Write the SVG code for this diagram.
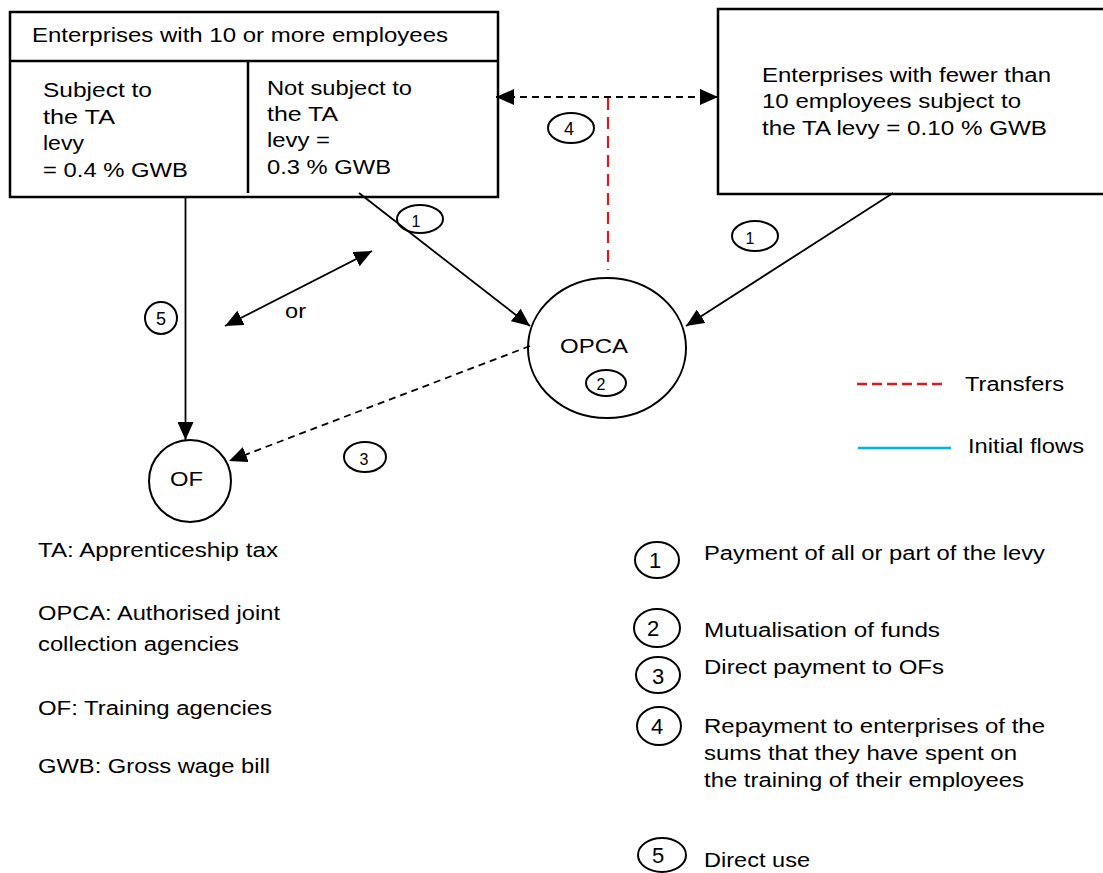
<svg xmlns="http://www.w3.org/2000/svg" width="1103" height="873" viewBox="0 0 1103 873">
<style>
text{font-family:"Liberation Sans",Arial,sans-serif;font-size:20px;fill:#000}
.d16{font-size:16px;text-anchor:middle}
.d18{font-size:18px;text-anchor:middle}
.d22{font-size:22px;text-anchor:middle}
.box{fill:#fff;stroke:#000;stroke-width:2.5}
.ell{fill:none;stroke:#000;stroke-width:2}
.ln{fill:none;stroke:#000;stroke-width:1.8}
.dash{fill:none;stroke:#000;stroke-width:1.8;stroke-dasharray:7 5}
.red{fill:none;stroke:#e3161b;stroke-width:2.2;stroke-dasharray:12 7}
</style>
<defs>
<marker id="ah" viewBox="0 0 18 16" refX="18" refY="8" markerWidth="18" markerHeight="16" markerUnits="userSpaceOnUse" orient="auto-start-reverse">
<path d="M0,0 L18,8 L0,16 Z" fill="#000"/>
</marker>
</defs>
<rect width="1103" height="873" fill="#fff"/>

<g id="big-enterprises">
<rect class="box" x="10" y="12" width="488" height="185"/>
<line x1="10" y1="61" x2="498" y2="61" stroke="#000" stroke-width="2.5"/>
<line x1="248" y1="61" x2="248" y2="193" stroke="#000" stroke-width="2.5"/>
<text x="32" y="42" textLength="416" lengthAdjust="spacingAndGlyphs">Enterprises with 10 or more employees</text>
<text x="43" y="97" textLength="109" lengthAdjust="spacingAndGlyphs">Subject to</text>
<text x="43" y="124" textLength="72" lengthAdjust="spacingAndGlyphs">the TA</text>
<text x="43" y="150" textLength="41" lengthAdjust="spacingAndGlyphs">levy</text>
<text x="43" y="177" textLength="145" lengthAdjust="spacingAndGlyphs">= 0.4 % GWB</text>
<text x="267" y="95" textLength="145" lengthAdjust="spacingAndGlyphs">Not subject to</text>
<text x="267" y="121" textLength="71" lengthAdjust="spacingAndGlyphs">the TA</text>
<text x="267" y="147" textLength="63" lengthAdjust="spacingAndGlyphs">levy =</text>
<text x="267" y="174" textLength="124" lengthAdjust="spacingAndGlyphs">0.3 % GWB</text>
</g>

<g id="small-enterprises">
<rect class="box" x="718" y="9" width="400" height="185"/>
<text x="762" y="82" textLength="289" lengthAdjust="spacingAndGlyphs">Enterprises with fewer than</text>
<text x="762" y="108" textLength="259" lengthAdjust="spacingAndGlyphs">10 employees subject to</text>
<text x="762" y="135" textLength="285" lengthAdjust="spacingAndGlyphs">the TA levy = 0.10 % GWB</text>
</g>

<g id="opca">
<ellipse class="ell" cx="607" cy="348" rx="79" ry="70"/>
<text x="560" y="353" textLength="68" lengthAdjust="spacingAndGlyphs">OPCA</text>
<ellipse class="ell" cx="606" cy="383" rx="20" ry="13"/>
<text class="d16" x="601" y="390">2</text>
</g>

<g id="of">
<ellipse class="ell" cx="190" cy="481" rx="41" ry="41"/>
<text x="170" y="486" textLength="33" lengthAdjust="spacingAndGlyphs">OF</text>
</g>

<g id="connectors">
<line class="ln" x1="185.5" y1="197" x2="185.5" y2="440" marker-end="url(#ah)"/>
<line class="ln" x1="359" y1="193" x2="530" y2="326" marker-end="url(#ah)"/>
<line class="ln" x1="893" y1="193" x2="686" y2="326" marker-end="url(#ah)"/>
<line class="ln" x1="225" y1="326" x2="372" y2="251" marker-start="url(#ah)" marker-end="url(#ah)"/>
<line class="dash" x1="530" y1="346" x2="229" y2="461" marker-end="url(#ah)"/>
<line class="dash" x1="496" y1="97" x2="718" y2="97" marker-start="url(#ah)" marker-end="url(#ah)"/>
<line class="red" x1="608" y1="98" x2="608" y2="270"/>
</g>

<g id="labels">
<ellipse class="ell" cx="420" cy="219" rx="23" ry="14"/>
<text class="d16" x="416" y="227">1</text>
<ellipse class="ell" cx="755" cy="236" rx="23" ry="15"/>
<text class="d16" x="750" y="244">1</text>
<ellipse class="ell" cx="365" cy="457" rx="21" ry="15"/>
<text class="d16" x="364" y="465">3</text>
<ellipse class="ell" cx="571" cy="128" rx="23" ry="15"/>
<text class="d18" x="569" y="135">4</text>
<ellipse class="ell" cx="161" cy="318" rx="16" ry="16"/>
<text class="d18" x="161" y="325">5</text>
<text x="285" y="318" textLength="21" lengthAdjust="spacingAndGlyphs">or</text>
</g>

<g id="legend-lines">
<line class="red" x1="857" y1="384" x2="942" y2="384" style="stroke-dasharray:10 5;stroke-width:2.5"/>
<text x="965" y="391" textLength="99" lengthAdjust="spacingAndGlyphs">Transfers</text>
<line x1="858" y1="448" x2="951" y2="448" stroke="#00b0f0" stroke-width="2.5"/>
<text x="968" y="453" textLength="116" lengthAdjust="spacingAndGlyphs">Initial flows</text>
</g>

<g id="glossary">
<text x="38" y="557" textLength="240" lengthAdjust="spacingAndGlyphs">TA: Apprenticeship tax</text>
<text x="38" y="620" textLength="242" lengthAdjust="spacingAndGlyphs">OPCA: Authorised joint</text>
<text x="38" y="651" textLength="201" lengthAdjust="spacingAndGlyphs">collection agencies</text>
<text x="38" y="715" textLength="234" lengthAdjust="spacingAndGlyphs">OF: Training agencies</text>
<text x="38" y="773" textLength="232" lengthAdjust="spacingAndGlyphs">GWB: Gross wage bill</text>
</g>

<g id="key">
<ellipse class="ell" cx="657" cy="560" rx="22" ry="18"/>
<text class="d22" x="655" y="568">1</text>
<text x="704" y="560" textLength="341" lengthAdjust="spacingAndGlyphs">Payment of all or part of the levy</text>
<ellipse class="ell" cx="657" cy="628" rx="23" ry="19"/>
<text class="d22" x="653" y="636">2</text>
<text x="704" y="637" textLength="236" lengthAdjust="spacingAndGlyphs">Mutualisation of funds</text>
<ellipse class="ell" cx="658" cy="675" rx="22" ry="18"/>
<text class="d22" x="658" y="684">3</text>
<text x="704" y="674" textLength="240" lengthAdjust="spacingAndGlyphs">Direct payment to OFs</text>
<ellipse class="ell" cx="659" cy="726" rx="22" ry="19"/>
<text class="d22" x="657" y="734">4</text>
<text x="704" y="733" textLength="341" lengthAdjust="spacingAndGlyphs">Repayment to enterprises of the</text>
<text x="704" y="760" textLength="313" lengthAdjust="spacingAndGlyphs">sums that they have spent on</text>
<text x="704" y="787" textLength="320" lengthAdjust="spacingAndGlyphs">the training of their employees</text>
<ellipse class="ell" cx="662" cy="855" rx="24" ry="17"/>
<text class="d22" x="658" y="863">5</text>
<text x="704" y="867" textLength="106" lengthAdjust="spacingAndGlyphs">Direct use</text>
</g>
</svg>
